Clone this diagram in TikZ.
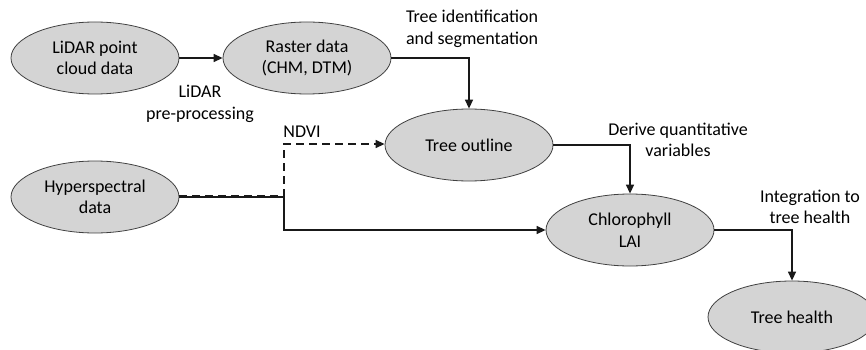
\documentclass[tikz,border=0pt]{standalone}
\usepackage{fontspec}
\setmainfont{Carlito}
\usetikzlibrary{arrows.meta,shapes.geometric}
\begin{document}
\begin{tikzpicture}[x=1pt,y=-1pt,
  txt/.style={font=\fontsize{18}{21.5}\selectfont, text=black, align=center},
  stage/.style={txt, ellipse, draw=black!75, line width=0.8pt, fill=black!17,
    minimum width=168pt, minimum height=72pt, inner sep=0pt},
  flow/.style={line width=1.4pt, draw=black!90,
    -{Triangle[length=9pt,width=8pt]}},
  dashflow/.style={flow, dash pattern=on 8pt off 5pt}
]
\useasboundingbox (0,0) rectangle (866,350);

% processing stages
\node[stage] (lidar)  at (95,58)   {LiDAR point\\cloud data};
\node[stage] (raster) at (307,58)  {Raster data\\(CHM, DTM)};
\node[stage] (hyper)  at (95,197)  {Hyperspectral\\data};
\node[stage] (outline) at (469,145) {Tree outline};
\node[stage] (chl)    at (630,230) {Chlorophyll\\LAI};
\node[stage] (health) at (792,317) {Tree health};

% step labels
\node[txt] (lpre)  at (200,104) {LiDAR\\pre-processing};
\node[txt] (lseg)  at (472,29)  {Tree identification\\and segmentation};
\node[txt] (lndvi) at (302,132) {NDVI};
\node[txt] (lder)  at (678,140) {Derive quantitative\\variables};
\node[txt] (lint)  at (810,207) {Integration to\\tree health};

% branch point of the hyperspectral data
\coordinate (split) at (284,197);

% connectors
\draw[flow] (lidar) -- (raster);
\draw[flow] (raster.east) -| (outline.north);
\draw[flow] (outline.east) -| (chl.north);
\draw[flow] (chl.east) -| (health.north);
\draw[flow] (hyper.east) -- (split) |- (chl.west);
\draw[dashflow, transform canvas={yshift=1pt}] (hyper.east) -- (split) |- (outline.west);
\end{tikzpicture}
\end{document}
